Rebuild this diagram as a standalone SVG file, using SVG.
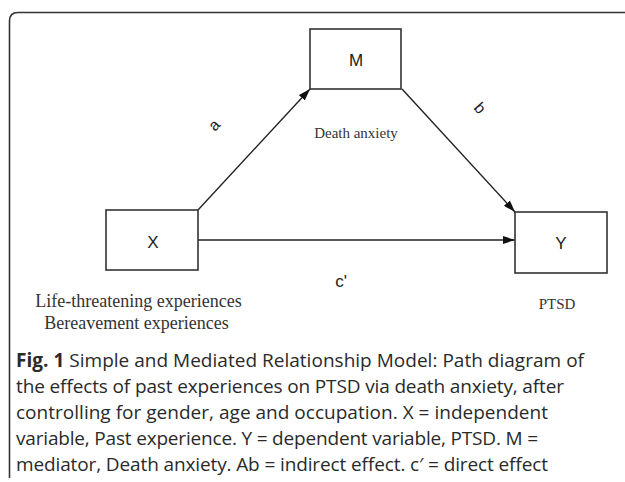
<svg xmlns="http://www.w3.org/2000/svg" width="625" height="482" viewBox="0 0 625 482">
<defs>
<style>
.box{fill:#fff;stroke:#333;stroke-width:1.6}
.edge{fill:none;stroke:#222;stroke-width:1.4}
.sans{font-family:"Liberation Sans",Arial,sans-serif;fill:#222}
.serif{font-family:"Liberation Serif","Times New Roman",serif;fill:#333}
.cap{font-family:"Open Sans","Noto Sans",sans-serif;font-size:19px;fill:#2a2a2a}
</style>
<marker id="arr" viewBox="0 0 12 8" refX="12" refY="4" markerWidth="12" markerHeight="8" markerUnits="userSpaceOnUse" orient="auto">
<path d="M0,0 L12,4 L0,8 Z" fill="#111"/>
</marker>
</defs>
<rect width="625" height="482" fill="#fff"/>
<path d="M9.5,478 V21 Q9.5,12.5 18,12.5 H625" fill="none" stroke="#333" stroke-width="1.6"/>
<g id="connectors">
<line class="edge" x1="198" y1="210" x2="310" y2="89" marker-end="url(#arr)"/>
<line class="edge" x1="402" y1="89" x2="515" y2="212" marker-end="url(#arr)"/>
<line class="edge" x1="198" y1="240" x2="515" y2="240" marker-end="url(#arr)"/>
<text class="sans" font-size="16" transform="translate(214,125) rotate(-47)" text-anchor="middle" dominant-baseline="central">a</text>
<text class="sans" font-size="16" transform="translate(480,108) rotate(47)" text-anchor="middle" dominant-baseline="central">b</text>
<text class="sans" font-size="17" x="341" y="287" text-anchor="middle">c'</text>
</g>
<g id="node-M">
<rect class="box" x="310" y="29" width="91" height="60"/>
<text class="sans" font-size="17" x="356" y="66" text-anchor="middle">M</text>
<text class="serif" font-size="15" x="356" y="138" text-anchor="middle">Death anxiety</text>
</g>
<g id="node-X">
<rect class="box" x="106" y="210" width="92" height="60"/>
<text class="sans" font-size="17" x="153" y="248" text-anchor="middle">X</text>
<text class="serif" font-size="18" x="138.5" y="307" text-anchor="middle">Life-threatening experiences</text>
<text class="serif" font-size="18" x="136.5" y="329" text-anchor="middle">Bereavement experiences</text>
</g>
<g id="node-Y">
<rect class="box" x="515" y="212" width="92" height="61"/>
<text class="sans" font-size="17" x="561" y="249" text-anchor="middle">Y</text>
<text class="serif" font-size="15" x="557" y="309" text-anchor="middle">PTSD</text>
</g>
<g id="caption">
<text class="cap" x="16" y="367" textLength="568" lengthAdjust="spacing"><tspan font-weight="bold">Fig. 1</tspan> Simple and Mediated Relationship Model: Path diagram of</text>
<text class="cap" x="16" y="393" textLength="548" lengthAdjust="spacing">the effects of past experiences on PTSD via death anxiety, after</text>
<text class="cap" x="16" y="419" textLength="532" lengthAdjust="spacing">controlling for gender, age and occupation. X = independent</text>
<text class="cap" x="16" y="445" textLength="522" lengthAdjust="spacing">variable, Past experience. Y = dependent variable, PTSD. M =</text>
<text class="cap" x="16" y="471" textLength="532" lengthAdjust="spacing">mediator, Death anxiety. Ab = indirect effect. c′ = direct effect</text>
</g>
</svg>
